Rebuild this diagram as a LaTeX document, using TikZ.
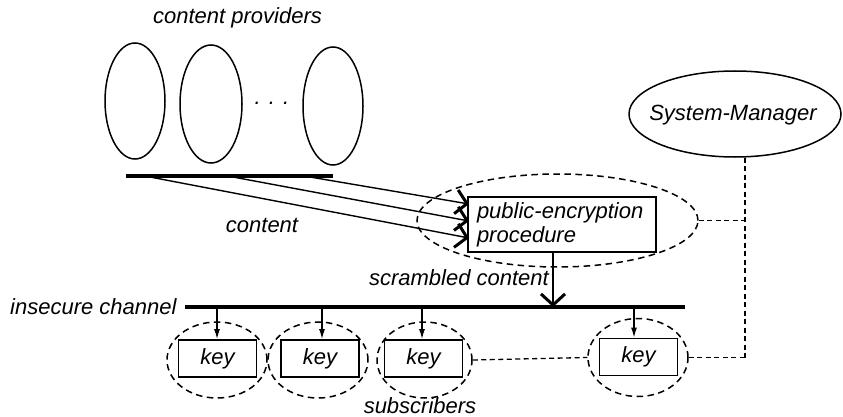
\documentclass[tikz,border=0pt]{standalone}
\usepackage{fontspec}
\setmainfont{Liberation Sans}
\usetikzlibrary{arrows.meta,shapes.geometric}
\begin{document}
\begin{tikzpicture}[x=1pt,y=-1pt,
  every node/.style={font=\fontsize{22}{24}\selectfont\itshape},
  lbl/.style={inner sep=0pt},
  provider/.style={draw,ellipse,line width=1.5pt,inner sep=0pt},
  bar/.style={line width=4pt},
  bigarrow/.style={line width=1.4pt,-{Straight Barb[length=11pt,width=24pt,line width=3pt]}},
  keyarrow/.style={line width=1.3pt,-{Latex[length=10pt,width=6pt]}},
  keybox/.style={draw,line width=1.8pt,minimum width=78pt,minimum height=37pt,inner sep=0pt},
  group/.style={draw,ellipse,dash pattern=on 6.5pt off 4.5pt,line width=1.5pt,inner sep=0pt},
  link/.style={dash pattern=on 5pt off 3.5pt,line width=1.3pt}]
\useasboundingbox (0,0) rectangle (843,417);

% content providers
\node[lbl] (cptitle) at (237.5,18) {content providers};
\node[provider,minimum width=60pt,minimum height=116pt] (p1) at (135,101) {};
\node[provider,minimum width=62pt,minimum height=118pt] (p2) at (211,104) {};
\node[provider,minimum width=60pt,minimum height=118pt] (p3) at (333,106) {};
\node[lbl,anchor=base] (dots) at (272,105) {. . .};

% provider bus
\coordinate (busL) at (126,176);
\coordinate (busR) at (333,176);
\draw[bar] (busL) -- (busR);
\coordinate (c1) at (150,177);
\coordinate (c2) at (233,177);
\coordinate (c3) at (310,177);

% encryption procedure
\node[group,minimum width=281pt,minimum height=93pt] (encgroup) at (557.5,220.5) {};
\node[draw,line width=1.8pt,minimum width=188pt,minimum height=55pt,
      inner xsep=9pt,inner ysep=0pt,text width=170pt,align=left] (enc) at (562,224.5)
      {public-encryption\\procedure};
\coordinate (in1) at (469,204);
\coordinate (in2) at (469,221);
\coordinate (in3) at (469,238);
\draw[bigarrow] (c3) -- (in1);
\draw[bigarrow] (c2) -- (in2);
\draw[bigarrow] (c1) -- (in3);
\node[lbl] (contentlbl) at (262,225) {content};

% insecure channel
\coordinate (chL) at (185,307);
\coordinate (chR) at (685,307);
\draw[bar] (chL) -- (chR);
\node[lbl,anchor=west] (chlbl) at (10,307) {insecure channel};
\coordinate (sc) at (553,0);
\draw[bigarrow] (enc.south -| sc) -- (chL -| sc);
\node[lbl,anchor=east] (sclbl) at (549,278) {scrambled content};

% subscribers
\node[group,minimum width=100pt,minimum height=76pt] (s1) at (217,360) {};
\node[group,minimum width=100pt,minimum height=76pt] (s2) at (318,360) {};
\node[group,minimum width=95pt,minimum height=76pt] (s3) at (424.5,360) {};
\node[group,minimum width=100pt,minimum height=78pt] (s4) at (638,357.5) {};
\node[keybox] (k1) at (217.5,358.5) {key};
\node[keybox] (k2) at (320,358.5) {key};
\node[keybox] (k3) at (423.5,358.5) {key};
\node[keybox] (k4) at (638.5,357) {key};
\foreach \k/\x in {k1/217,k2/322,k3/422,k4/634}{
  \coordinate (a\k) at (\x,0);
  \draw[keyarrow] (chL -| a\k) -- (\k.north -| a\k);
}
\node[lbl] (sublbl) at (420,406) {subscribers};

% system manager and its links
\node[draw,ellipse,line width=1.5pt,minimum width=212pt,minimum height=86pt,inner sep=0pt] (sm) at (735,114) {};
\node[lbl] (smlbl) at (733,115) {System-Manager};
\coordinate (trunk) at (745,0);
\draw[link] (sm.south -| trunk) -- (s4.east -| trunk);
\draw[link] (encgroup.east) -- (encgroup.east -| trunk);
\draw[link] (s4.east) -- (s4.east -| trunk);
\draw[link] (s3.east) -- (s4.west);
\end{tikzpicture}
\end{document}
